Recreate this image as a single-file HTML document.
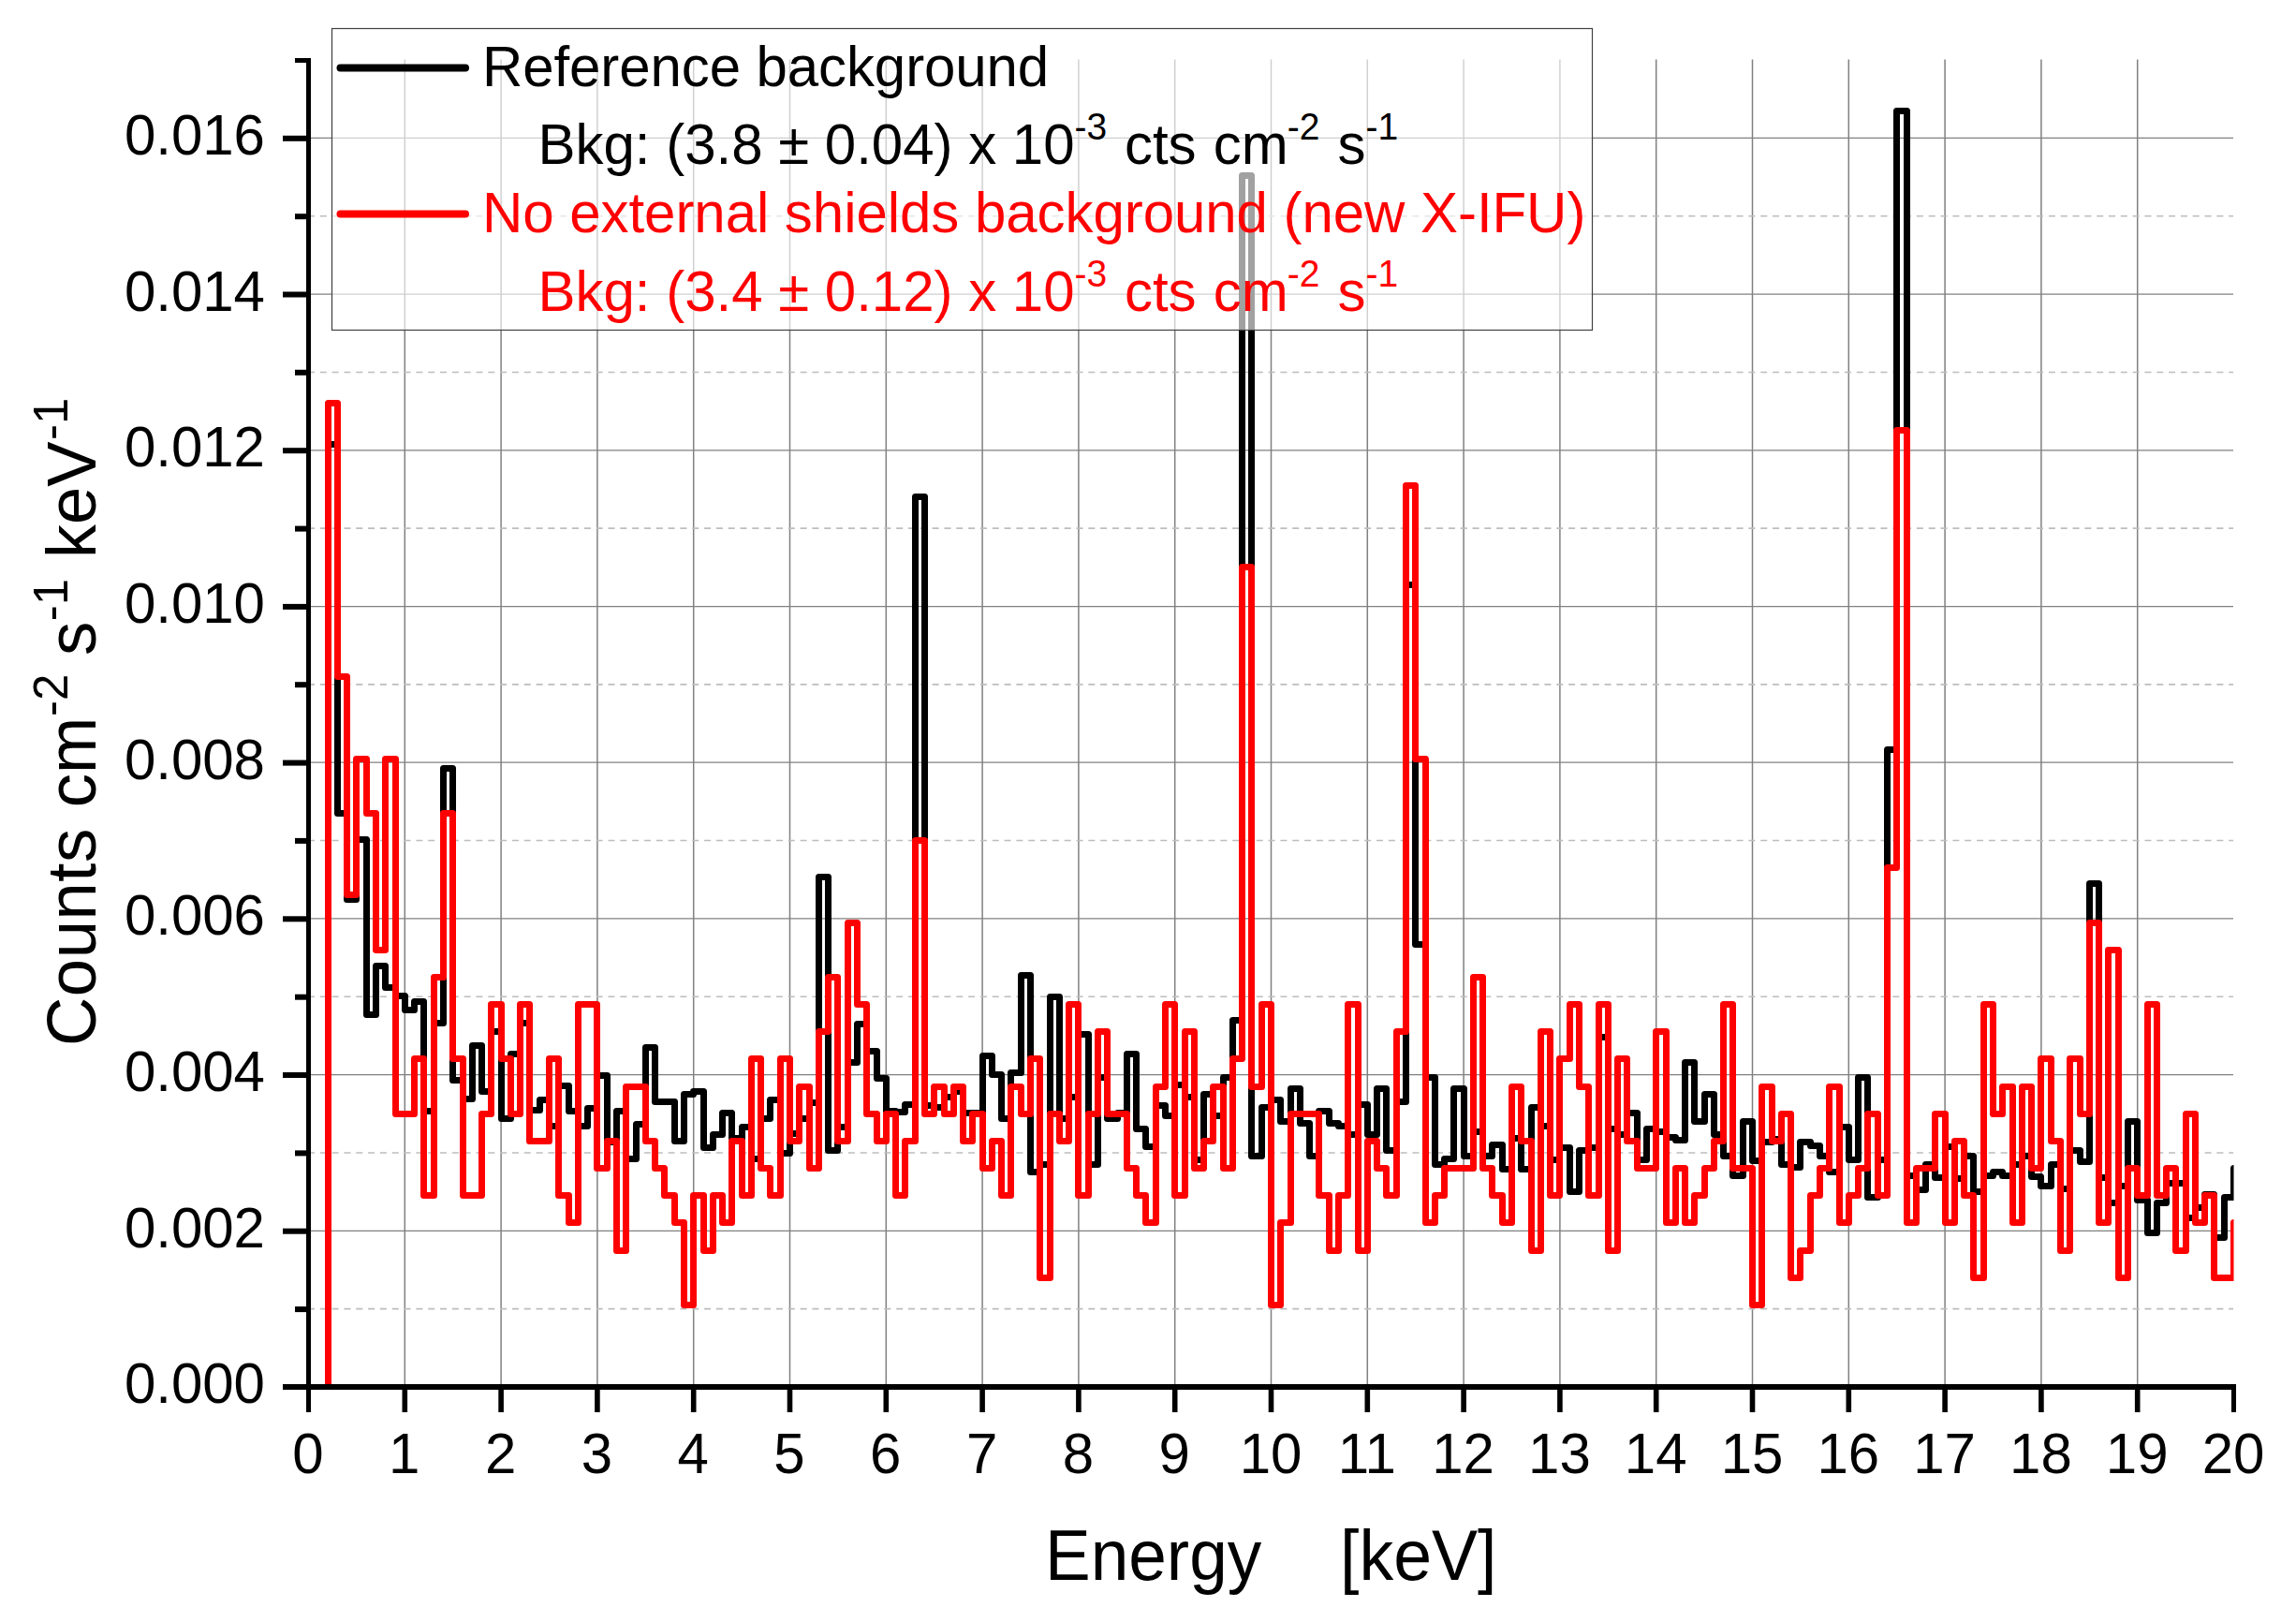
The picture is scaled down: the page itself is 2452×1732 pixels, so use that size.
<!DOCTYPE html>
<html><head><meta charset="utf-8"><title>Background spectrum</title>
<style>
html,body{margin:0;padding:0;background:#fff;}
svg{display:block;}
text{font-family:"Liberation Sans",sans-serif;}
</style></head><body>
<svg width="2452" height="1732" viewBox="0 0 2452 1732">
<rect width="2452" height="1732" fill="#fff"/>
<defs><clipPath id="plot"><rect x="327" y="60" width="2058.5" height="1418"/></clipPath></defs>
<g><line x1="432.3" y1="63.6" x2="432.3" y2="1478" stroke="#808080" stroke-width="1.5"/>
<line x1="535.1" y1="63.6" x2="535.1" y2="1478" stroke="#808080" stroke-width="1.5"/>
<line x1="637.9" y1="63.6" x2="637.9" y2="1478" stroke="#808080" stroke-width="1.5"/>
<line x1="740.7" y1="63.6" x2="740.7" y2="1478" stroke="#808080" stroke-width="1.5"/>
<line x1="843.5" y1="63.6" x2="843.5" y2="1478" stroke="#808080" stroke-width="1.5"/>
<line x1="946.3" y1="63.6" x2="946.3" y2="1478" stroke="#808080" stroke-width="1.5"/>
<line x1="1049.1" y1="63.6" x2="1049.1" y2="1478" stroke="#808080" stroke-width="1.5"/>
<line x1="1151.9" y1="63.6" x2="1151.9" y2="1478" stroke="#808080" stroke-width="1.5"/>
<line x1="1254.7" y1="63.6" x2="1254.7" y2="1478" stroke="#808080" stroke-width="1.5"/>
<line x1="1357.5" y1="63.6" x2="1357.5" y2="1478" stroke="#808080" stroke-width="1.5"/>
<line x1="1460.3" y1="63.6" x2="1460.3" y2="1478" stroke="#808080" stroke-width="1.5"/>
<line x1="1563.1" y1="63.6" x2="1563.1" y2="1478" stroke="#808080" stroke-width="1.5"/>
<line x1="1665.9" y1="63.6" x2="1665.9" y2="1478" stroke="#808080" stroke-width="1.5"/>
<line x1="1768.7" y1="63.6" x2="1768.7" y2="1478" stroke="#808080" stroke-width="1.5"/>
<line x1="1871.5" y1="63.6" x2="1871.5" y2="1478" stroke="#808080" stroke-width="1.5"/>
<line x1="1974.3" y1="63.6" x2="1974.3" y2="1478" stroke="#808080" stroke-width="1.5"/>
<line x1="2077.1" y1="63.6" x2="2077.1" y2="1478" stroke="#808080" stroke-width="1.5"/>
<line x1="2179.9" y1="63.6" x2="2179.9" y2="1478" stroke="#808080" stroke-width="1.5"/>
<line x1="2282.7" y1="63.6" x2="2282.7" y2="1478" stroke="#808080" stroke-width="1.5"/>
<line x1="329" y1="1397.65" x2="2385" y2="1397.65" stroke="#bdbdbd" stroke-width="1.6" stroke-dasharray="7 5.82"/>
<line x1="332" y1="1314.30" x2="2385" y2="1314.30" stroke="#808080" stroke-width="1.25"/>
<line x1="329" y1="1230.95" x2="2385" y2="1230.95" stroke="#bdbdbd" stroke-width="1.6" stroke-dasharray="7 5.82"/>
<line x1="332" y1="1147.60" x2="2385" y2="1147.60" stroke="#808080" stroke-width="1.25"/>
<line x1="329" y1="1064.25" x2="2385" y2="1064.25" stroke="#bdbdbd" stroke-width="1.6" stroke-dasharray="7 5.82"/>
<line x1="332" y1="980.90" x2="2385" y2="980.90" stroke="#808080" stroke-width="1.25"/>
<line x1="329" y1="897.55" x2="2385" y2="897.55" stroke="#bdbdbd" stroke-width="1.6" stroke-dasharray="7 5.82"/>
<line x1="332" y1="814.20" x2="2385" y2="814.20" stroke="#808080" stroke-width="1.25"/>
<line x1="329" y1="730.85" x2="2385" y2="730.85" stroke="#bdbdbd" stroke-width="1.6" stroke-dasharray="7 5.82"/>
<line x1="332" y1="647.50" x2="2385" y2="647.50" stroke="#808080" stroke-width="1.25"/>
<line x1="329" y1="564.15" x2="2385" y2="564.15" stroke="#bdbdbd" stroke-width="1.6" stroke-dasharray="7 5.82"/>
<line x1="332" y1="480.80" x2="2385" y2="480.80" stroke="#808080" stroke-width="1.25"/>
<line x1="329" y1="397.45" x2="2385" y2="397.45" stroke="#bdbdbd" stroke-width="1.6" stroke-dasharray="7 5.82"/>
<line x1="332" y1="314.10" x2="2385" y2="314.10" stroke="#808080" stroke-width="1.25"/>
<line x1="329" y1="230.75" x2="2385" y2="230.75" stroke="#bdbdbd" stroke-width="1.6" stroke-dasharray="7 5.82"/>
<line x1="332" y1="147.40" x2="2385" y2="147.40" stroke="#808080" stroke-width="1.25"/></g>
<g clip-path="url(#plot)" fill="none" stroke-width="7" stroke-linejoin="round" stroke-linecap="butt"><path d="M350.5 1481.5 L350.5 474.5 L360.5 474.5 L360.5 868.5 L370.5 868.5 L370.5 960.5 L380.5 960.5 L380.5 896.5 L391.5 896.5 L391.5 1083.5 L401.5 1083.5 L401.5 1031.5 L411.5 1031.5 L411.5 1054.5 L422.5 1054.5 L422.5 1063.5 L432.5 1063.5 L432.5 1078.5 L442.5 1078.5 L442.5 1069.5 L452.5 1069.5 L452.5 1186.5 L463.5 1186.5 L463.5 1092.5 L473.5 1092.5 L473.5 820.5 L483.5 820.5 L483.5 1153.5 L494.5 1153.5 L494.5 1173.5 L504.5 1173.5 L504.5 1116.5 L514.5 1116.5 L514.5 1165.5 L524.5 1165.5 L524.5 1101.5 L535.5 1101.5 L535.5 1194.5 L545.5 1194.5 L545.5 1125.5 L555.5 1125.5 L555.5 1092.5 L565.5 1092.5 L565.5 1185.5 L576.5 1185.5 L576.5 1174.5 L586.5 1174.5 L586.5 1202.5 L596.5 1202.5 L596.5 1159.5 L607.5 1159.5 L607.5 1186.5 L617.5 1186.5 L617.5 1202.5 L627.5 1202.5 L627.5 1183.5 L637.5 1183.5 L637.5 1148.5 L648.5 1148.5 L648.5 1219.5 L658.5 1219.5 L658.5 1186.5 L668.5 1186.5 L668.5 1237.5 L679.5 1237.5 L679.5 1200.5 L689.5 1200.5 L689.5 1118.5 L699.5 1118.5 L699.5 1176.5 L709.5 1176.5 L709.5 1176.5 L720.5 1176.5 L720.5 1218.5 L730.5 1218.5 L730.5 1168.5 L740.5 1168.5 L740.5 1165.5 L751.5 1165.5 L751.5 1225.5 L761.5 1225.5 L761.5 1211.5 L771.5 1211.5 L771.5 1188.5 L781.5 1188.5 L781.5 1215.5 L792.5 1215.5 L792.5 1203.5 L802.5 1203.5 L802.5 1237.5 L812.5 1237.5 L812.5 1194.5 L822.5 1194.5 L822.5 1174.5 L833.5 1174.5 L833.5 1231.5 L843.5 1231.5 L843.5 1210.5 L853.5 1210.5 L853.5 1194.5 L864.5 1194.5 L864.5 1177.5 L874.5 1177.5 L874.5 936.5 L884.5 936.5 L884.5 1228.5 L894.5 1228.5 L894.5 1203.5 L905.5 1203.5 L905.5 1134.5 L915.5 1134.5 L915.5 1093.5 L925.5 1093.5 L925.5 1122.5 L936.5 1122.5 L936.5 1151.5 L946.5 1151.5 L946.5 1186.5 L956.5 1186.5 L956.5 1187.5 L966.5 1187.5 L966.5 1179.5 L977.5 1179.5 L977.5 530.5 L987.5 530.5 L987.5 1180.5 L997.5 1180.5 L997.5 1182.5 L1008.5 1182.5 L1008.5 1171.5 L1018.5 1171.5 L1018.5 1165.5 L1028.5 1165.5 L1028.5 1188.5 L1038.5 1188.5 L1038.5 1188.5 L1049.5 1188.5 L1049.5 1127.5 L1059.5 1127.5 L1059.5 1147.5 L1069.5 1147.5 L1069.5 1194.5 L1079.5 1194.5 L1079.5 1145.5 L1090.5 1145.5 L1090.5 1041.5 L1100.5 1041.5 L1100.5 1251.5 L1110.5 1251.5 L1110.5 1243.5 L1121.5 1243.5 L1121.5 1064.5 L1131.5 1064.5 L1131.5 1194.5 L1141.5 1194.5 L1141.5 1171.5 L1151.5 1171.5 L1151.5 1104.5 L1162.5 1104.5 L1162.5 1243.5 L1172.5 1243.5 L1172.5 1150.5 L1182.5 1150.5 L1182.5 1194.5 L1193.5 1194.5 L1193.5 1188.5 L1203.5 1188.5 L1203.5 1125.5 L1213.5 1125.5 L1213.5 1205.5 L1223.5 1205.5 L1223.5 1224.5 L1234.5 1224.5 L1234.5 1180.5 L1244.5 1180.5 L1244.5 1191.5 L1254.5 1191.5 L1254.5 1158.5 L1265.5 1158.5 L1265.5 1171.5 L1275.5 1171.5 L1275.5 1238.5 L1285.5 1238.5 L1285.5 1168.5 L1295.5 1168.5 L1295.5 1191.5 L1306.5 1191.5 L1306.5 1150.5 L1316.5 1150.5 L1316.5 1089.5 L1326.5 1089.5 L1326.5 187.5 L1336.5 187.5 L1336.5 1234.5 L1347.5 1234.5 L1347.5 1182.5 L1357.5 1182.5 L1357.5 1174.5 L1367.5 1174.5 L1367.5 1197.5 L1378.5 1197.5 L1378.5 1162.5 L1388.5 1162.5 L1388.5 1199.5 L1398.5 1199.5 L1398.5 1234.5 L1408.5 1234.5 L1408.5 1186.5 L1419.5 1186.5 L1419.5 1199.5 L1429.5 1199.5 L1429.5 1202.5 L1439.5 1202.5 L1439.5 1211.5 L1450.5 1211.5 L1450.5 1179.5 L1460.5 1179.5 L1460.5 1211.5 L1470.5 1211.5 L1470.5 1162.5 L1480.5 1162.5 L1480.5 1228.5 L1491.5 1228.5 L1491.5 1176.5 L1501.5 1176.5 L1501.5 624.5 L1511.5 624.5 L1511.5 1008.5 L1522.5 1008.5 L1522.5 1150.5 L1532.5 1150.5 L1532.5 1243.5 L1542.5 1243.5 L1542.5 1237.5 L1552.5 1237.5 L1552.5 1162.5 L1563.5 1162.5 L1563.5 1234.5 L1573.5 1234.5 L1573.5 1208.5 L1583.5 1208.5 L1583.5 1234.5 L1593.5 1234.5 L1593.5 1222.5 L1604.5 1222.5 L1604.5 1248.5 L1614.5 1248.5 L1614.5 1215.5 L1624.5 1215.5 L1624.5 1248.5 L1635.5 1248.5 L1635.5 1182.5 L1645.5 1182.5 L1645.5 1202.5 L1655.5 1202.5 L1655.5 1238.5 L1665.5 1238.5 L1665.5 1225.5 L1676.5 1225.5 L1676.5 1272.5 L1686.5 1272.5 L1686.5 1228.5 L1696.5 1228.5 L1696.5 1225.5 L1707.5 1225.5 L1707.5 1107.5 L1717.5 1107.5 L1717.5 1205.5 L1727.5 1205.5 L1727.5 1211.5 L1737.5 1211.5 L1737.5 1188.5 L1748.5 1188.5 L1748.5 1238.5 L1758.5 1238.5 L1758.5 1205.5 L1768.5 1205.5 L1768.5 1208.5 L1779.5 1208.5 L1779.5 1214.5 L1789.5 1214.5 L1789.5 1217.5 L1799.5 1217.5 L1799.5 1134.5 L1809.5 1134.5 L1809.5 1197.5 L1820.5 1197.5 L1820.5 1168.5 L1830.5 1168.5 L1830.5 1211.5 L1840.5 1211.5 L1840.5 1234.5 L1850.5 1234.5 L1850.5 1255.5 L1861.5 1255.5 L1861.5 1197.5 L1871.5 1197.5 L1871.5 1239.5 L1881.5 1239.5 L1881.5 1219.5 L1892.5 1219.5 L1892.5 1216.5 L1902.5 1216.5 L1902.5 1243.5 L1912.5 1243.5 L1912.5 1246.5 L1922.5 1246.5 L1922.5 1219.5 L1933.5 1219.5 L1933.5 1223.5 L1943.5 1223.5 L1943.5 1234.5 L1953.5 1234.5 L1953.5 1251.5 L1964.5 1251.5 L1964.5 1203.5 L1974.5 1203.5 L1974.5 1238.5 L1984.5 1238.5 L1984.5 1150.5 L1994.5 1150.5 L1994.5 1278.5 L2005.5 1278.5 L2005.5 1238.5 L2015.5 1238.5 L2015.5 800.5 L2025.5 800.5 L2025.5 118.5 L2036.5 118.5 L2036.5 1255.5 L2046.5 1255.5 L2046.5 1270.5 L2056.5 1270.5 L2056.5 1243.5 L2066.5 1243.5 L2066.5 1257.5 L2077.5 1257.5 L2077.5 1224.5 L2087.5 1224.5 L2087.5 1258.5 L2097.5 1258.5 L2097.5 1234.5 L2107.5 1234.5 L2107.5 1272.5 L2118.5 1272.5 L2118.5 1255.5 L2128.5 1255.5 L2128.5 1251.5 L2138.5 1251.5 L2138.5 1255.5 L2149.5 1255.5 L2149.5 1243.5 L2159.5 1243.5 L2159.5 1234.5 L2169.5 1234.5 L2169.5 1256.5 L2179.5 1256.5 L2179.5 1266.5 L2190.5 1266.5 L2190.5 1243.5 L2200.5 1243.5 L2200.5 1269.5 L2210.5 1269.5 L2210.5 1228.5 L2221.5 1228.5 L2221.5 1240.5 L2231.5 1240.5 L2231.5 943.5 L2241.5 943.5 L2241.5 1257.5 L2251.5 1257.5 L2251.5 1284.5 L2262.5 1284.5 L2262.5 1266.5 L2272.5 1266.5 L2272.5 1197.5 L2282.5 1197.5 L2282.5 1281.5 L2293.5 1281.5 L2293.5 1316.5 L2303.5 1316.5 L2303.5 1284.5 L2313.5 1284.5 L2313.5 1263.5 L2323.5 1263.5 L2323.5 1263.5 L2334.5 1263.5 L2334.5 1300.5 L2344.5 1300.5 L2344.5 1289.5 L2354.5 1289.5 L2354.5 1275.5 L2364.5 1275.5 L2364.5 1321.5 L2375.5 1321.5 L2375.5 1278.5 L2385.5 1278.5 L2385.5 1247.5 L2395.5 1247.5" stroke="#000"/><path d="M350.5 1481.5 L350.5 430.5 L360.5 430.5 L360.5 722.5 L370.5 722.5 L370.5 955.5 L380.5 955.5 L380.5 810.5 L391.5 810.5 L391.5 868.5 L401.5 868.5 L401.5 1014.5 L411.5 1014.5 L411.5 810.5 L422.5 810.5 L422.5 1189.5 L432.5 1189.5 L432.5 1189.5 L442.5 1189.5 L442.5 1130.5 L452.5 1130.5 L452.5 1276.5 L463.5 1276.5 L463.5 1043.5 L473.5 1043.5 L473.5 868.5 L483.5 868.5 L483.5 1130.5 L494.5 1130.5 L494.5 1276.5 L504.5 1276.5 L504.5 1276.5 L514.5 1276.5 L514.5 1189.5 L524.5 1189.5 L524.5 1072.5 L535.5 1072.5 L535.5 1130.5 L545.5 1130.5 L545.5 1189.5 L555.5 1189.5 L555.5 1072.5 L565.5 1072.5 L565.5 1218.5 L576.5 1218.5 L576.5 1218.5 L586.5 1218.5 L586.5 1130.5 L596.5 1130.5 L596.5 1276.5 L607.5 1276.5 L607.5 1305.5 L617.5 1305.5 L617.5 1072.5 L627.5 1072.5 L627.5 1072.5 L637.5 1072.5 L637.5 1247.5 L648.5 1247.5 L648.5 1218.5 L658.5 1218.5 L658.5 1335.5 L668.5 1335.5 L668.5 1160.5 L679.5 1160.5 L679.5 1160.5 L689.5 1160.5 L689.5 1218.5 L699.5 1218.5 L699.5 1247.5 L709.5 1247.5 L709.5 1276.5 L720.5 1276.5 L720.5 1305.5 L730.5 1305.5 L730.5 1393.5 L740.5 1393.5 L740.5 1276.5 L751.5 1276.5 L751.5 1335.5 L761.5 1335.5 L761.5 1276.5 L771.5 1276.5 L771.5 1305.5 L781.5 1305.5 L781.5 1218.5 L792.5 1218.5 L792.5 1276.5 L802.5 1276.5 L802.5 1130.5 L812.5 1130.5 L812.5 1247.5 L822.5 1247.5 L822.5 1276.5 L833.5 1276.5 L833.5 1130.5 L843.5 1130.5 L843.5 1218.5 L853.5 1218.5 L853.5 1160.5 L864.5 1160.5 L864.5 1247.5 L874.5 1247.5 L874.5 1101.5 L884.5 1101.5 L884.5 1043.5 L894.5 1043.5 L894.5 1218.5 L905.5 1218.5 L905.5 985.5 L915.5 985.5 L915.5 1072.5 L925.5 1072.5 L925.5 1189.5 L936.5 1189.5 L936.5 1218.5 L946.5 1218.5 L946.5 1189.5 L956.5 1189.5 L956.5 1276.5 L966.5 1276.5 L966.5 1218.5 L977.5 1218.5 L977.5 897.5 L987.5 897.5 L987.5 1189.5 L997.5 1189.5 L997.5 1160.5 L1008.5 1160.5 L1008.5 1189.5 L1018.5 1189.5 L1018.5 1160.5 L1028.5 1160.5 L1028.5 1218.5 L1038.5 1218.5 L1038.5 1189.5 L1049.5 1189.5 L1049.5 1247.5 L1059.5 1247.5 L1059.5 1218.5 L1069.5 1218.5 L1069.5 1276.5 L1079.5 1276.5 L1079.5 1160.5 L1090.5 1160.5 L1090.5 1189.5 L1100.5 1189.5 L1100.5 1130.5 L1110.5 1130.5 L1110.5 1364.5 L1121.5 1364.5 L1121.5 1189.5 L1131.5 1189.5 L1131.5 1218.5 L1141.5 1218.5 L1141.5 1072.5 L1151.5 1072.5 L1151.5 1276.5 L1162.5 1276.5 L1162.5 1189.5 L1172.5 1189.5 L1172.5 1101.5 L1182.5 1101.5 L1182.5 1189.5 L1193.5 1189.5 L1193.5 1189.5 L1203.5 1189.5 L1203.5 1247.5 L1213.5 1247.5 L1213.5 1276.5 L1223.5 1276.5 L1223.5 1305.5 L1234.5 1305.5 L1234.5 1160.5 L1244.5 1160.5 L1244.5 1072.5 L1254.5 1072.5 L1254.5 1276.5 L1265.5 1276.5 L1265.5 1101.5 L1275.5 1101.5 L1275.5 1247.5 L1285.5 1247.5 L1285.5 1218.5 L1295.5 1218.5 L1295.5 1160.5 L1306.5 1160.5 L1306.5 1247.5 L1316.5 1247.5 L1316.5 1130.5 L1326.5 1130.5 L1326.5 605.5 L1336.5 605.5 L1336.5 1160.5 L1347.5 1160.5 L1347.5 1072.5 L1357.5 1072.5 L1357.5 1393.5 L1367.5 1393.5 L1367.5 1305.5 L1378.5 1305.5 L1378.5 1189.5 L1388.5 1189.5 L1388.5 1189.5 L1398.5 1189.5 L1398.5 1189.5 L1408.5 1189.5 L1408.5 1276.5 L1419.5 1276.5 L1419.5 1335.5 L1429.5 1335.5 L1429.5 1276.5 L1439.5 1276.5 L1439.5 1072.5 L1450.5 1072.5 L1450.5 1335.5 L1460.5 1335.5 L1460.5 1218.5 L1470.5 1218.5 L1470.5 1247.5 L1480.5 1247.5 L1480.5 1276.5 L1491.5 1276.5 L1491.5 1101.5 L1501.5 1101.5 L1501.5 518.5 L1511.5 518.5 L1511.5 810.5 L1522.5 810.5 L1522.5 1305.5 L1532.5 1305.5 L1532.5 1276.5 L1542.5 1276.5 L1542.5 1247.5 L1552.5 1247.5 L1552.5 1247.5 L1563.5 1247.5 L1563.5 1247.5 L1573.5 1247.5 L1573.5 1043.5 L1583.5 1043.5 L1583.5 1247.5 L1593.5 1247.5 L1593.5 1276.5 L1604.5 1276.5 L1604.5 1305.5 L1614.5 1305.5 L1614.5 1160.5 L1624.5 1160.5 L1624.5 1218.5 L1635.5 1218.5 L1635.5 1335.5 L1645.5 1335.5 L1645.5 1101.5 L1655.5 1101.5 L1655.5 1276.5 L1665.5 1276.5 L1665.5 1130.5 L1676.5 1130.5 L1676.5 1072.5 L1686.5 1072.5 L1686.5 1160.5 L1696.5 1160.5 L1696.5 1276.5 L1707.5 1276.5 L1707.5 1072.5 L1717.5 1072.5 L1717.5 1335.5 L1727.5 1335.5 L1727.5 1130.5 L1737.5 1130.5 L1737.5 1218.5 L1748.5 1218.5 L1748.5 1247.5 L1758.5 1247.5 L1758.5 1247.5 L1768.5 1247.5 L1768.5 1101.5 L1779.5 1101.5 L1779.5 1305.5 L1789.5 1305.5 L1789.5 1247.5 L1799.5 1247.5 L1799.5 1305.5 L1809.5 1305.5 L1809.5 1276.5 L1820.5 1276.5 L1820.5 1247.5 L1830.5 1247.5 L1830.5 1218.5 L1840.5 1218.5 L1840.5 1072.5 L1850.5 1072.5 L1850.5 1247.5 L1861.5 1247.5 L1861.5 1247.5 L1871.5 1247.5 L1871.5 1393.5 L1881.5 1393.5 L1881.5 1160.5 L1892.5 1160.5 L1892.5 1218.5 L1902.5 1218.5 L1902.5 1189.5 L1912.5 1189.5 L1912.5 1364.5 L1922.5 1364.5 L1922.5 1335.5 L1933.5 1335.5 L1933.5 1276.5 L1943.5 1276.5 L1943.5 1247.5 L1953.5 1247.5 L1953.5 1160.5 L1964.5 1160.5 L1964.5 1305.5 L1974.5 1305.5 L1974.5 1276.5 L1984.5 1276.5 L1984.5 1247.5 L1994.5 1247.5 L1994.5 1189.5 L2005.5 1189.5 L2005.5 1276.5 L2015.5 1276.5 L2015.5 926.5 L2025.5 926.5 L2025.5 459.5 L2036.5 459.5 L2036.5 1305.5 L2046.5 1305.5 L2046.5 1247.5 L2056.5 1247.5 L2056.5 1247.5 L2066.5 1247.5 L2066.5 1189.5 L2077.5 1189.5 L2077.5 1305.5 L2087.5 1305.5 L2087.5 1218.5 L2097.5 1218.5 L2097.5 1276.5 L2107.5 1276.5 L2107.5 1364.5 L2118.5 1364.5 L2118.5 1072.5 L2128.5 1072.5 L2128.5 1189.5 L2138.5 1189.5 L2138.5 1160.5 L2149.5 1160.5 L2149.5 1305.5 L2159.5 1305.5 L2159.5 1160.5 L2169.5 1160.5 L2169.5 1247.5 L2179.5 1247.5 L2179.5 1130.5 L2190.5 1130.5 L2190.5 1218.5 L2200.5 1218.5 L2200.5 1335.5 L2210.5 1335.5 L2210.5 1130.5 L2221.5 1130.5 L2221.5 1189.5 L2231.5 1189.5 L2231.5 985.5 L2241.5 985.5 L2241.5 1305.5 L2251.5 1305.5 L2251.5 1014.5 L2262.5 1014.5 L2262.5 1364.5 L2272.5 1364.5 L2272.5 1247.5 L2282.5 1247.5 L2282.5 1276.5 L2293.5 1276.5 L2293.5 1072.5 L2303.5 1072.5 L2303.5 1276.5 L2313.5 1276.5 L2313.5 1247.5 L2323.5 1247.5 L2323.5 1335.5 L2334.5 1335.5 L2334.5 1189.5 L2344.5 1189.5 L2344.5 1305.5 L2354.5 1305.5 L2354.5 1276.5 L2364.5 1276.5 L2364.5 1364.5 L2375.5 1364.5 L2375.5 1364.5 L2385.5 1364.5 L2385.5 1305.5 L2395.5 1305.5" stroke="#f00"/></g>
<g><rect x="327" y="62" width="5" height="1422" fill="#000"/>
<rect x="302" y="1478" width="2086" height="6" fill="#000"/>
<rect x="327.0" y="1481" width="5.0" height="27" fill="#000"/>
<text transform="translate(329.0 1573.3) scale(1 1.030)" font-size="60" text-anchor="middle">0</text>
<rect x="429.5" y="1481" width="5.6" height="27" fill="#000"/>
<text transform="translate(431.8 1573.3) scale(1 1.030)" font-size="60" text-anchor="middle">1</text>
<rect x="532.3" y="1481" width="5.6" height="27" fill="#000"/>
<text transform="translate(534.6 1573.3) scale(1 1.030)" font-size="60" text-anchor="middle">2</text>
<rect x="635.1" y="1481" width="5.6" height="27" fill="#000"/>
<text transform="translate(637.4 1573.3) scale(1 1.030)" font-size="60" text-anchor="middle">3</text>
<rect x="737.9" y="1481" width="5.6" height="27" fill="#000"/>
<text transform="translate(740.2 1573.3) scale(1 1.030)" font-size="60" text-anchor="middle">4</text>
<rect x="840.7" y="1481" width="5.6" height="27" fill="#000"/>
<text transform="translate(843.0 1573.3) scale(1 1.030)" font-size="60" text-anchor="middle">5</text>
<rect x="943.5" y="1481" width="5.6" height="27" fill="#000"/>
<text transform="translate(945.8 1573.3) scale(1 1.030)" font-size="60" text-anchor="middle">6</text>
<rect x="1046.3" y="1481" width="5.6" height="27" fill="#000"/>
<text transform="translate(1048.6 1573.3) scale(1 1.030)" font-size="60" text-anchor="middle">7</text>
<rect x="1149.1" y="1481" width="5.6" height="27" fill="#000"/>
<text transform="translate(1151.4 1573.3) scale(1 1.030)" font-size="60" text-anchor="middle">8</text>
<rect x="1251.9" y="1481" width="5.6" height="27" fill="#000"/>
<text transform="translate(1254.2 1573.3) scale(1 1.030)" font-size="60" text-anchor="middle">9</text>
<rect x="1354.7" y="1481" width="5.6" height="27" fill="#000"/>
<text transform="translate(1357.0 1573.3) scale(1 1.030)" font-size="60" text-anchor="middle">10</text>
<rect x="1457.5" y="1481" width="5.6" height="27" fill="#000"/>
<text transform="translate(1459.8 1573.3) scale(1 1.030)" font-size="60" text-anchor="middle">11</text>
<rect x="1560.3" y="1481" width="5.6" height="27" fill="#000"/>
<text transform="translate(1562.6 1573.3) scale(1 1.030)" font-size="60" text-anchor="middle">12</text>
<rect x="1663.1" y="1481" width="5.6" height="27" fill="#000"/>
<text transform="translate(1665.4 1573.3) scale(1 1.030)" font-size="60" text-anchor="middle">13</text>
<rect x="1765.9" y="1481" width="5.6" height="27" fill="#000"/>
<text transform="translate(1768.2 1573.3) scale(1 1.030)" font-size="60" text-anchor="middle">14</text>
<rect x="1868.7" y="1481" width="5.6" height="27" fill="#000"/>
<text transform="translate(1871.0 1573.3) scale(1 1.030)" font-size="60" text-anchor="middle">15</text>
<rect x="1971.5" y="1481" width="5.6" height="27" fill="#000"/>
<text transform="translate(1973.8 1573.3) scale(1 1.030)" font-size="60" text-anchor="middle">16</text>
<rect x="2074.3" y="1481" width="5.6" height="27" fill="#000"/>
<text transform="translate(2076.6 1573.3) scale(1 1.030)" font-size="60" text-anchor="middle">17</text>
<rect x="2177.1" y="1481" width="5.6" height="27" fill="#000"/>
<text transform="translate(2179.4 1573.3) scale(1 1.030)" font-size="60" text-anchor="middle">18</text>
<rect x="2279.9" y="1481" width="5.6" height="27" fill="#000"/>
<text transform="translate(2282.2 1573.3) scale(1 1.030)" font-size="60" text-anchor="middle">19</text>
<rect x="2383.0" y="1481" width="5.0" height="27" fill="#000"/>
<text transform="translate(2385.0 1573.3) scale(1 1.030)" font-size="60" text-anchor="middle">20</text>
<text transform="translate(283.0 1498.4) scale(1 1.030)" font-size="60" text-anchor="end">0.000</text>
<rect x="315" y="1395.1" width="14" height="6" fill="#000"/>
<rect x="302" y="1311.7" width="27" height="6" fill="#000"/>
<text transform="translate(283.0 1331.7) scale(1 1.030)" font-size="60" text-anchor="end">0.002</text>
<rect x="315" y="1228.4" width="14" height="6" fill="#000"/>
<rect x="302" y="1145.0" width="27" height="6" fill="#000"/>
<text transform="translate(283.0 1165.0) scale(1 1.030)" font-size="60" text-anchor="end">0.004</text>
<rect x="315" y="1061.7" width="14" height="6" fill="#000"/>
<rect x="302" y="978.3" width="27" height="6" fill="#000"/>
<text transform="translate(283.0 998.3) scale(1 1.030)" font-size="60" text-anchor="end">0.006</text>
<rect x="315" y="894.9" width="14" height="6" fill="#000"/>
<rect x="302" y="811.6" width="27" height="6" fill="#000"/>
<text transform="translate(283.0 831.6) scale(1 1.030)" font-size="60" text-anchor="end">0.008</text>
<rect x="315" y="728.2" width="14" height="6" fill="#000"/>
<rect x="302" y="644.9" width="27" height="6" fill="#000"/>
<text transform="translate(283.0 664.9) scale(1 1.030)" font-size="60" text-anchor="end">0.010</text>
<rect x="315" y="561.6" width="14" height="6" fill="#000"/>
<rect x="302" y="478.2" width="27" height="6" fill="#000"/>
<text transform="translate(283.0 498.2) scale(1 1.030)" font-size="60" text-anchor="end">0.012</text>
<rect x="315" y="394.8" width="14" height="6" fill="#000"/>
<rect x="302" y="311.5" width="27" height="6" fill="#000"/>
<text transform="translate(283.0 331.5) scale(1 1.030)" font-size="60" text-anchor="end">0.014</text>
<rect x="315" y="228.2" width="14" height="6" fill="#000"/>
<rect x="302" y="144.8" width="27" height="6" fill="#000"/>
<text transform="translate(283.0 164.8) scale(1 1.030)" font-size="60" text-anchor="end">0.016</text>
<rect x="315" y="62.0" width="14" height="5" fill="#000"/></g>
<text transform="translate(1116.0 1686.5) scale(1 1.030)" font-size="73">Energy</text><text transform="translate(1431.0 1686.5) scale(1 1.030)" font-size="73.5">[keV]</text><text transform="translate(102.0 1117.0) rotate(-90) scale(1 1.030)" font-size="72.5"><tspan letter-spacing="0.5">Counts</tspan><tspan dx="2"> cm</tspan><tspan font-size="51" dy="-29" dx="0.5">-2</tspan><tspan dy="29" dx="-0.5"> s</tspan><tspan font-size="51" dy="-29" dx="0.7">-1</tspan><tspan dy="29" dx="1.3"> keV</tspan><tspan font-size="51" dy="-29" dx="1.5">-1</tspan></text>
<g><rect x="354.5" y="30.5" width="1346" height="322" fill="#fff" fill-opacity="0.63" stroke="#404040" stroke-width="1.2"/>
<line x1="363.5" y1="72.5" x2="497" y2="72.5" stroke="#000" stroke-width="8" stroke-linecap="round"/>
<line x1="363.5" y1="228.5" x2="497" y2="228.5" stroke="#f00" stroke-width="8" stroke-linecap="round"/>
<text transform="translate(515.0 91.8) scale(1 1.030)" font-size="60" letter-spacing="-0.09">Reference background</text>
<text transform="translate(574.5 174.9) scale(1 1.030)" font-size="60">Bkg: (3.8 ± 0.04) x 10<tspan font-size="39" dy="-25">-3</tspan><tspan dy="25" dx="2"> cts</tspan><tspan dx="1.5"> cm</tspan><tspan font-size="39" dy="-25" dx="-1">-2</tspan><tspan dy="25" dx="2.5"> s</tspan><tspan font-size="39" dy="-25">-1</tspan></text>
<text transform="translate(515.0 248.3) scale(1 1.030)" font-size="60" fill="#f00" letter-spacing="-0.045">No external shields background (new X-IFU)</text>
<text transform="translate(574.5 331.7) scale(1 1.030)" font-size="60" fill="#f00">Bkg: (3.4 ± 0.12) x 10<tspan font-size="39" dy="-25">-3</tspan><tspan dy="25" dx="2"> cts</tspan><tspan dx="1.5"> cm</tspan><tspan font-size="39" dy="-25" dx="-1">-2</tspan><tspan dy="25" dx="2.5"> s</tspan><tspan font-size="39" dy="-25">-1</tspan></text></g>
</svg></body></html>
